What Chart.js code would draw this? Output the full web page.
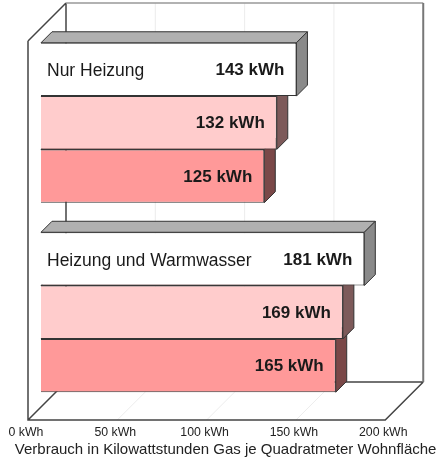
<!DOCTYPE html>
<html>
<head>
<meta charset="utf-8">
<script src="https://cdn.jsdelivr.net/npm/chart.js@4/dist/chart.umd.min.js"></script>
<style>
  html, body { margin: 0; padding: 0; background: #ffffff; }
  #wrap { width: 441px; height: 464px; }
</style>
</head>
<body>
<div id="wrap"><canvas id="gasChart"></canvas></div>
<script>
// Gas consumption per square metre of living space
const categories = ['Nur Heizung', 'Heizung und Warmwasser'];
const seriesA = [143, 181];
const seriesB = [132, 169];
const seriesC = [125, 165];
const tickValues = [0, 50, 100, 150, 200];
const unit = ' kWh';
const axisTitle = 'Verbrauch in Kilowattstunden Gas je Quadratmeter Wohnfläche';

const frontColors = ['#ffffff', '#ffcccc', '#ff9999'];
const topColors = ['#b0b0b0', '#d9a3a3', '#cc7a7a'];
const sideColors = ['#8a8a8a', '#7d5a5a', '#7a4848'];

const FRONT = 13;   // bar plane -> front edge of the box
const BACK = 25;    // bar plane -> back wall
const DEPTH = 11;   // depth of the bars themselves
const FONT = 'Liberation Sans, Arial, sans-serif';

Chart.defaults.font.family = FONT;
Chart.defaults.color = '#222';

function poly(ctx, pts, fill, stroke) {
    ctx.beginPath();
    ctx.moveTo(pts[0][0], pts[0][1]);
    for (let i = 1; i < pts.length; i++) ctx.lineTo(pts[i][0], pts[i][1]);
    ctx.closePath();
    if (fill) { ctx.fillStyle = fill; ctx.fill(); }
    if (stroke) { ctx.strokeStyle = stroke; ctx.stroke(); }
}

const box3d = {
    id: 'box3d',
    beforeDatasetsDraw(chart) {
        const ctx = chart.ctx;
        const a = chart.chartArea;
        const xs = chart.scales.x;
        const l = a.left, r = a.right, t = a.top, b = a.bottom;
        ctx.save();
        ctx.lineWidth = 1;

        // faint grid on back wall and floor
        ctx.strokeStyle = '#ececec';
        tickValues.slice(1, -1).forEach(v => {
            const px = xs.getPixelForValue(v);
            ctx.beginPath();
            ctx.moveTo(px + BACK, t - BACK);
            ctx.lineTo(px + BACK, b - BACK);
            ctx.lineTo(px - FRONT, b + FRONT);
            ctx.stroke();
        });

        // walls and floor
        ctx.lineWidth = 1.5;
        ctx.strokeStyle = '#444';
        ctx.beginPath();
        ctx.moveTo(l - FRONT, t + FRONT);
        ctx.lineTo(l + BACK, t - BACK);
        ctx.moveTo(l - FRONT, t + FRONT);
        ctx.lineTo(l - FRONT, b + FRONT);
        ctx.lineTo(r - FRONT, b + FRONT);
        ctx.lineTo(r + BACK, b - BACK);
        ctx.moveTo(l - FRONT, b + FRONT);
        ctx.lineTo(l + BACK, b - BACK);
        ctx.lineTo(r + BACK, b - BACK);
        ctx.moveTo(l + BACK, t - BACK);
        ctx.lineTo(l + BACK, b - BACK);
        ctx.stroke();
        ctx.strokeStyle = '#999';
        ctx.beginPath();
        ctx.moveTo(l + BACK, t - BACK);
        ctx.lineTo(r + BACK, t - BACK);
        ctx.stroke();
        ctx.strokeStyle = '#777';
        ctx.lineWidth = 2;
        ctx.beginPath();
        ctx.moveTo(r + BACK, t - BACK);
        ctx.lineTo(r + BACK, b - BACK);
        ctx.stroke();

        // top and side faces of the bars, lowest bar first
        const bars = [];
        chart.data.datasets.forEach((ds, di) => {
            chart.getDatasetMeta(di).data.forEach(el => {
                const p = el.getProps(['x', 'y', 'base', 'height'], true);
                bars.push({ di, ...p });
            });
        });
        bars.sort((m, n) => n.y - m.y);
        ctx.lineWidth = 1;
        bars.forEach(p => {
            const top = p.y - p.height / 2, bot = p.y + p.height / 2;
            poly(ctx, [[p.base, top], [p.base + DEPTH, top - DEPTH], [p.x + DEPTH, top - DEPTH], [p.x, top]],
                topColors[p.di], '#333');
            poly(ctx, [[p.x, top], [p.x + DEPTH, top - DEPTH], [p.x + DEPTH, bot - DEPTH], [p.x, bot]],
                sideColors[p.di], '#333');
        });
        ctx.restore();
    },
    afterDatasetsDraw(chart) {
        const ctx = chart.ctx;
        ctx.save();
        ctx.fillStyle = '#1a1a1a';
        ctx.textBaseline = 'middle';
        chart.data.datasets.forEach((ds, di) => {
            chart.getDatasetMeta(di).data.forEach((el, i) => {
                const p = el.getProps(['x', 'y', 'base'], true);
                ctx.font = 'bold 17px ' + FONT;
                ctx.textAlign = 'right';
                ctx.fillText(ds.data[i] + unit, p.x - 12, p.y + 1);
                if (di === 0) {
                    ctx.font = '17.5px ' + FONT;
                    ctx.textAlign = 'left';
                    ctx.fillText(categories[i], p.base + 6, p.y + 2);
                }
            });
        });
        ctx.restore();
    },
    afterDraw(chart) {
        // axis title, wider than the scale itself
        const ctx = chart.ctx;
        const a = chart.chartArea;
        ctx.save();
        ctx.font = '15px ' + FONT;
        ctx.fillStyle = '#222';
        ctx.textAlign = 'center';
        ctx.textBaseline = 'middle';
        ctx.fillText(axisTitle, (a.left + a.right) / 2 + 6, chart.height - 14);
        ctx.restore();
    }
};

new Chart(document.getElementById('gasChart'), {
    type: 'bar',
    data: {
        labels: categories,
        datasets: [seriesA, seriesB, seriesC].map((d, i) => ({
            data: d,
            backgroundColor: frontColors[i],
            borderColor: '#333',
            borderWidth: 1,
            categoryPercentage: 0.844,
            barPercentage: 1
        }))
    },
    options: {
        indexAxis: 'y',
        responsive: true,
        maintainAspectRatio: false,
        animation: false,
        layout: { padding: { left: 41, right: 40, top: 28, bottom: 5 } },
        scales: {
            y: { display: false },
            x: {
                min: 0,
                max: 200,
                afterBuildTicks(scale) {
                    scale.ticks = tickValues.map(v => ({ value: v }));
                },
                afterFit(scale) {
                    scale.height = 52;
                },
                grid: { display: false, drawTicks: false },
                border: { display: false },
                ticks: {
                    padding: 18.5,
                    labelOffset: -15,
                    font: { size: 12.3 },
                    callback: v => v + unit
                },
                title: { display: false }
            }
        },
        plugins: {
            legend: { display: false },
            tooltip: { enabled: false }
        }
    },
    plugins: [box3d]
});
</script>
</body>
</html>
